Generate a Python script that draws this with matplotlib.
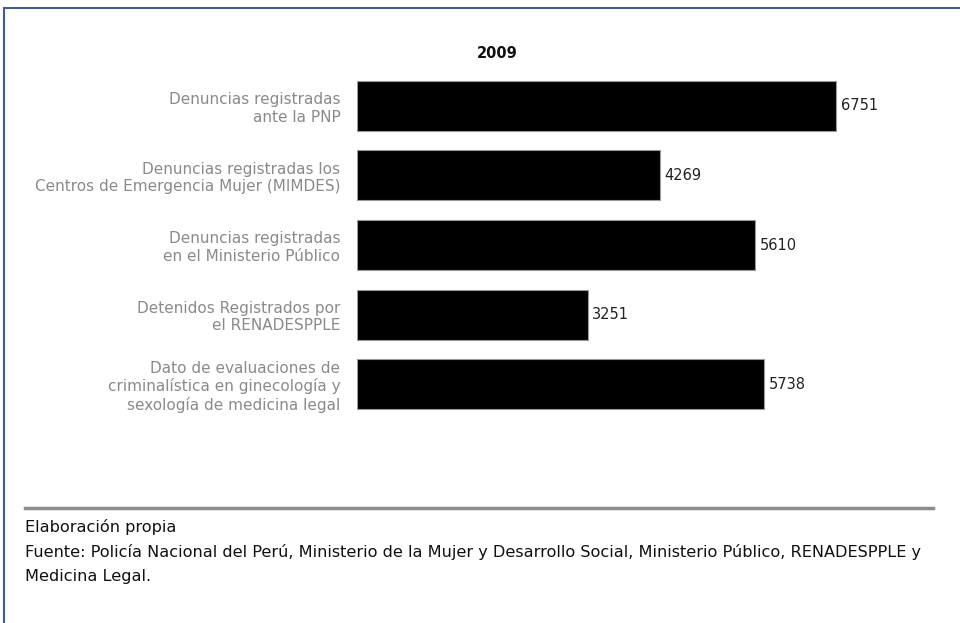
import matplotlib.pyplot as plt
from matplotlib.patches import Rectangle
from matplotlib.lines import Line2D

plt.rcParams['font.family'] = ['Liberation Sans Narrow', 'DejaVu Sans']

categories = [
    'Denuncias registradas\nante la PNP',
    'Denuncias registradas los\nCentros de Emergencia Mujer (MIMDES)',
    'Denuncias registradas\nen el Ministerio Público',
    'Detenidos Registrados por\nel RENADESPPLE',
    'Dato de evaluaciones de\ncriminalística en ginecología y\nsexología de medicina legal',
]
values = [6751, 4269, 5610, 3251, 5738]
year = '2009'

fig = plt.figure(figsize=(9.6, 6.23), dpi=100)
W, H = 960, 623

# frame around the figure
fig.patches.append(Rectangle((3.5 / W, -0.1), 1.2, 1 - 8 / H + 0.1,
                             transform=fig.transFigure, fill=False,
                             edgecolor='#3f5f8f', linewidth=1.5))

ax = fig.add_axes([357 / W, 1 - 419 / H, (925 - 357) / W, (419 - 71) / H])
pos = range(len(values))
ax.barh(pos, values, height=0.72, color='black', edgecolor='#999999', linewidth=0.8)
ax.set_xlim(0, 8000)
ax.set_ylim(len(values) - 0.5, -0.5)
for s in ax.spines.values():
    s.set_visible(False)
ax.set_xticks([])
ax.set_yticks(list(pos))
ax.set_yticklabels(categories, color='#8a8a8a', fontsize=11, linespacing=1.2)
ax.tick_params(axis='y', length=0, pad=12)
for p, v in zip(pos, values):
    ax.text(v + 60, p, str(v), va='center', ha='left', fontsize=10.5, color='#222222')

fig.text(497 / W, 1 - 54 / H, year, ha='center', va='center', fontsize=10.5,
         fontweight='bold', color='#111111')

fig.lines.append(Line2D([25 / W, 933 / W], [1 - 508 / H, 1 - 508 / H],
                        transform=fig.transFigure, color='#8c8c8c', linewidth=2.5))
fig.text(25 / W, 1 - 527 / H, 'Elaboración propia', ha='left', va='center',
         fontsize=11.6, color='#111111')
fig.text(25 / W, 1 - 552 / H,
         'Fuente: Policía Nacional del Perú, Ministerio de la Mujer y Desarrollo Social, '
         'Ministerio Público, RENADESPPLE y',
         ha='left', va='center', fontsize=11.6, color='#111111')
fig.text(25 / W, 1 - 576 / H, 'Medicina Legal.', ha='left', va='center',
         fontsize=11.6, color='#111111')

fig.savefig('out.png', dpi=100)
